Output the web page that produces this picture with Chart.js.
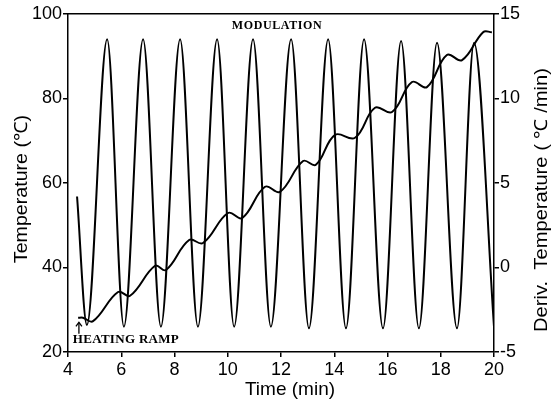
<!DOCTYPE html>
<html>
<head>
<meta charset="utf-8">
<script src="https://cdn.jsdelivr.net/npm/chart.js@4"></script>
<style>
html,body{margin:0;padding:0;background:#fff;}
canvas{display:block;}
</style>
</head>
<body>
<canvas id="c" width="551" height="403"></canvas>
<script>
// Modulation (derivative of temperature, right axis), extrema
const modTime  = [4.34, 4.71, 5.47, 6.10, 6.82, 7.49, 8.21, 8.88, 9.60, 10.24, 10.95, 11.62, 12.38, 13.05, 13.77, 14.44, 15.12, 15.83, 16.51, 17.18, 17.86, 18.61, 19.25, 20.0];
const modDeriv = [4.2, -3.4, 13.5, -3.5, 13.5, -3.5, 13.5, -3.5, 13.5, -3.5, 13.5, -3.5, 13.5, -3.6, 13.5, -3.6, 13.5, -3.6, 13.4, -3.6, 13.3, -3.6, 13.3, -3.5];

// Heating ramp (temperature, left axis)
const rampTime = [4.38, 4.56, 4.94, 5.88, 6.33, 7.27, 7.68, 8.55, 9.07, 10.01, 10.54, 11.40, 11.96, 12.83, 13.31, 14.03, 14.78, 15.53, 16.17, 16.92, 17.48, 18.23, 18.80, 19.59, 19.92];
const rampTemp = [28.1, 28.1, 27.3, 34.2, 33.3, 40.4, 39.4, 46.5, 45.8, 52.9, 51.7, 59.1, 57.9, 65.2, 64.3, 71.4, 70.7, 77.8, 76.8, 83.9, 82.7, 90.3, 89.1, 95.7, 95.7];

// Axis ranges / ticks
const timeTicks = [4, 6, 8, 10, 12, 14, 16, 18, 20];
const tempTicks = [20, 40, 60, 80, 100];
const derivTicks = [-5, 0, 5, 10, 15];

const xTitle = 'Time (min)';
const yTitle = 'Temperature (℃)';
const y2Title = 'Deriv.  Temperature ( ℃ /min)';
const modLabel = 'MODULATION';
const rampLabel = 'HEATING RAMP';

Chart.defaults.font.family = '"Liberation Sans", Arial, sans-serif';
Chart.defaults.color = '#000';

const modData = modTime.map((t, i) => ({x: t, y: modDeriv[i]}));
const rampData = rampTime.map((t, i) => ({x: t, y: rampTemp[i]}));

const annot = {
  id: 'annot',
  afterDraw(chart) {
    const {ctx, scales, chartArea} = chart;
    const x = scales.x, y = scales.y;
    const midY = (chartArea.top + chartArea.bottom) / 2;
    const midX = (chartArea.left + chartArea.right) / 2;
    ctx.save();
    ctx.fillStyle = '#000';
    ctx.strokeStyle = '#000';
    ctx.textBaseline = 'middle';
    ctx.font = 'bold 12px "Liberation Serif", serif';
    ctx.textAlign = 'center';
    try { ctx.letterSpacing = '0.6px'; } catch (e) {}
    ctx.fillText(modLabel, x.getPixelForValue(11.85), y.getPixelForValue(97.3));
    ctx.font = 'bold 13px "Liberation Serif", serif';
    ctx.textAlign = 'left';
    try { ctx.letterSpacing = '0.3px'; } catch (e) {}
    ctx.fillText(rampLabel, x.getPixelForValue(4.18), y.getPixelForValue(22.9));
    try { ctx.letterSpacing = '0px'; } catch (e) {}
    // arrow
    const ax = x.getPixelForValue(4.41);
    const ay0 = y.getPixelForValue(24.3), ay1 = y.getPixelForValue(27.0);
    ctx.lineWidth = 1.3;
    ctx.beginPath();
    ctx.moveTo(ax, ay0); ctx.lineTo(ax, ay1);
    ctx.stroke();
    ctx.beginPath();
    ctx.moveTo(ax - 3, ay1 + 4); ctx.lineTo(ax, ay1); ctx.lineTo(ax + 3, ay1 + 4);
    ctx.stroke();

    ctx.textAlign = 'center';
    // bottom axis title
    ctx.font = '19px "Liberation Sans", Arial, sans-serif';
    ctx.fillText(xTitle, midX + 9, chart.height - 13);
    // left axis title
    ctx.save();
    ctx.font = '18px "Liberation Sans", Arial, sans-serif';
    ctx.translate(22, midY + 6);
    ctx.rotate(-Math.PI / 2);
    ctx.scale(1.09, 1);
    ctx.fillText(yTitle, 0, 0);
    ctx.restore();
    // right axis title, reading bottom-to-top
    ctx.save();
    ctx.font = '18px "Liberation Sans", Arial, sans-serif';
    ctx.translate(chart.width - 9, midY + 17);
    ctx.rotate(-Math.PI / 2);
    ctx.scale(1.12, 1);
    ctx.fillText(y2Title, 0, 0);
    ctx.restore();
    ctx.restore();
  }
};

const tickFont = {size: 18};
const axisLine = {display: true, color: '#000', width: 1.5};
const tickMarks = {drawOnChartArea: false, drawTicks: true, tickLength: 5, color: '#000', lineWidth: 1.5};

new Chart(document.getElementById('c'), {
  type: 'line',
  data: {
    datasets: [
      {
        label: 'Modulation',
        data: modData,
        yAxisID: 'y2',
        borderColor: '#000',
        borderWidth: 2,
        pointRadius: 0,
        fill: false,
        cubicInterpolationMode: 'monotone'
      },
      {
        label: 'Heating ramp',
        data: rampData,
        yAxisID: 'y',
        borderColor: '#000',
        borderWidth: 2,
        pointRadius: 0,
        fill: false,
        tension: 0.4
      }
    ]
  },
  options: {
    responsive: false,
    animation: false,
    devicePixelRatio: 1,
    layout: {padding: 0},
    plugins: {legend: {display: false}, tooltip: {enabled: false}},
    scales: {
      x: {
        type: 'linear',
        position: 'bottom',
        min: 4, max: 20,
        afterBuildTicks: (s) => { s.ticks = timeTicks.map(v => ({value: v})); },
        afterFit: (s) => { s.height = 51; },
        ticks: {font: tickFont, padding: 2, maxRotation: 0},
        grid: tickMarks,
        border: axisLine,
        title: {display: false}
      },
      x2: {
        type: 'linear',
        position: 'top',
        min: 4, max: 20,
        afterFit: (s) => { s.height = 14; },
        ticks: {display: false},
        grid: {display: false, drawTicks: false},
        border: axisLine
      },
      y: {
        type: 'linear',
        position: 'left',
        min: 20, max: 100,
        afterBuildTicks: (s) => { s.ticks = tempTicks.map(v => ({value: v})); },
        afterFit: (s) => { s.width = 68; },
        ticks: {font: tickFont, padding: 1},
        grid: tickMarks,
        border: axisLine,
        title: {display: false}
      },
      y2: {
        type: 'linear',
        position: 'right',
        min: -5, max: 15,
        afterBuildTicks: (s) => { s.ticks = derivTicks.map(v => ({value: v})); },
        afterFit: (s) => { s.width = 57; },
        ticks: {font: tickFont, padding: 1},
        grid: tickMarks,
        border: axisLine,
        title: {display: false}
      }
    }
  },
  plugins: [annot]
});
</script>
</body>
</html>
